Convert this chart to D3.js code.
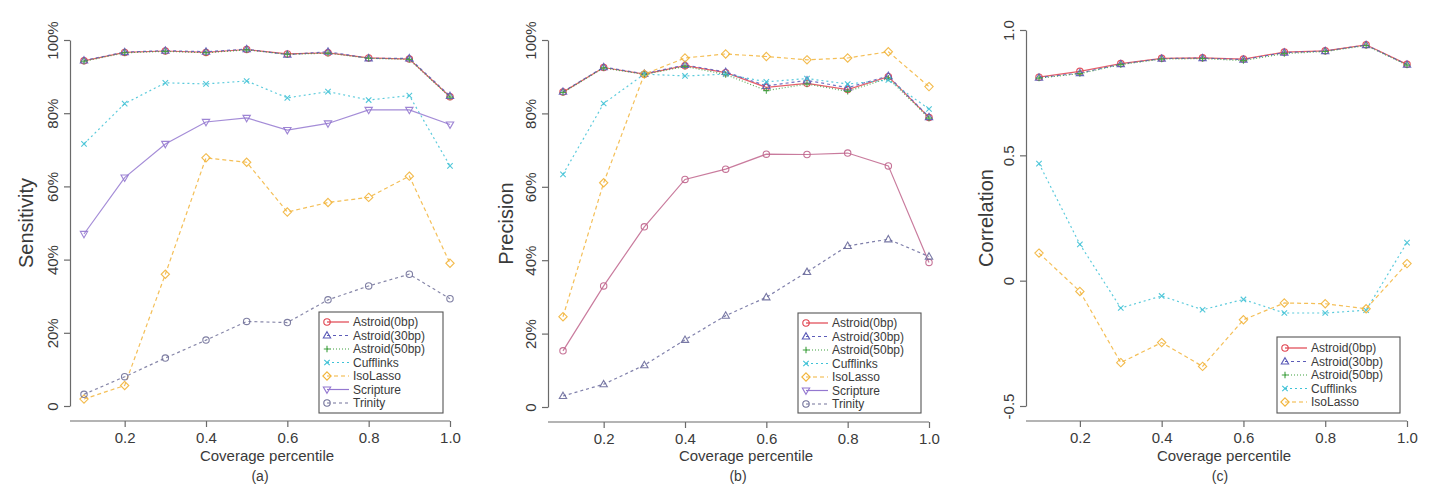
<!DOCTYPE html>
<html><head><meta charset="utf-8">
<script src="https://cdn.jsdelivr.net/npm/d3@7"></script>
<style>
body{margin:0;background:#fff;}
svg text{font-family:"Liberation Sans",Arial,Helvetica,sans-serif;fill:#3a3a3a;}
</style></head>
<body><svg id="c" width="1435" height="486"></svg>
<script>
// ---------- data ----------
const coverage = [0.1,0.2,0.3,0.4,0.5,0.6,0.7,0.8,0.9,1.0];
const xTicks = [0.2,0.4,0.6,0.8,1.0];
const xTickLabels = ["0.2","0.4","0.6","0.8","1.0"];
const pctTicks = [0,20,40,60,80,100];
const pctTickLabels = ["0","20%","40%","60%","80%","100%"];
const corTicks = [-0.5,0,0.5,1.0];
const corTickLabels = ["-0.5","0","0.5","1.0"];
const seriesNames = ["Astroid(0bp)","Astroid(30bp)","Astroid(50bp)","Cufflinks","IsoLasso","Scripture","Trinity"];

// (a) Sensitivity (%)
const sensAstroid0  = [94.3,96.6,97.0,96.6,97.4,96.2,96.5,95.1,94.8,84.5];
const sensAstroid30 = [94.4,96.7,97.1,96.8,97.5,96.0,96.8,95.0,95.0,84.7];
const sensAstroid50 = [94.2,96.5,96.9,96.5,97.3,96.1,96.4,95.0,94.7,84.4];
const sensCufflinks = [71.6,82.6,88.3,88.0,88.8,84.2,85.9,83.6,84.8,65.6];
const sensIsoLasso  = [1.9,5.6,36.0,67.8,66.6,53.0,55.6,57.0,62.8,39.0];
const sensScripture = [47.0,62.4,71.6,77.6,78.7,75.4,77.2,80.9,80.9,76.9];
const sensTrinity   = [3.2,8.0,13.1,18.0,23.1,22.8,29.0,32.8,36.0,29.3];

// (b) Precision (%)
const precAstroid0  = [85.8,92.5,90.7,93.0,91.1,87.1,88.2,86.5,90.0,78.9];
const precAstroid30 = [85.9,92.6,90.8,93.2,91.3,87.5,89.0,87.0,90.2,79.0];
const precAstroid50 = [85.7,92.4,90.6,92.8,90.6,86.2,88.0,86.0,89.6,78.7];
const precCufflinks = [63.4,82.7,90.7,90.2,90.7,88.6,89.5,88.0,89.1,81.2];
const precIsoLasso  = [24.6,61.1,90.7,95.1,96.2,95.5,94.6,95.1,96.8,87.3];
const precScripture = [15.3,33.0,49.1,62.0,64.8,68.9,68.8,69.2,65.7,39.4];
const precTrinity   = [3.0,6.2,11.4,18.3,24.9,29.9,36.8,43.9,45.7,41.0];

// (c) Correlation
const corAstroid0  = [0.812,0.835,0.866,0.887,0.889,0.884,0.912,0.917,0.941,0.863];
const corAstroid30 = [0.810,0.828,0.864,0.886,0.888,0.882,0.910,0.916,0.940,0.862];
const corAstroid50 = [0.808,0.826,0.862,0.884,0.886,0.878,0.906,0.914,0.938,0.860];
const corCufflinks = [0.467,0.145,-0.109,-0.061,-0.116,-0.075,-0.129,-0.129,-0.118,0.152];
const corIsoLasso  = [0.110,-0.043,-0.327,-0.247,-0.342,-0.156,-0.089,-0.092,-0.112,0.068];

// ---------- styles ----------
const styles = {
  "Astroid(0bp)":  {color:"#e0434f", dash:null,    shape:"circle"},
  "Astroid(30bp)": {color:"#5c5cb8", dash:"3,3",   shape:"triangle"},
  "Astroid(50bp)": {color:"#3fa03f", dash:"1,2",   shape:"plus"},
  "Cufflinks":     {color:"#3fc2d6", dash:"2,3",   shape:"cross"},
  "IsoLasso":      {color:"#f2b43a", dash:"4,3",   shape:"diamond"},
  "Scripture":     {color:"#9478d0", dash:null,    shape:"itriangle"},
  "Trinity":       {color:"#72729a", dash:"3,3",   shape:"circle"}
};

const panels = [
  {label:"(a)", ylab:"Sensitivity", yDomain:[0,100], yRange:[406,40], xRange:[84,450], axisX:70, axisY:421,
   yTicks:pctTicks, yTickLabels:pctTickLabels, xlabX:267, tagX:260, ylabX:26,
   legend:{x:319,y:312,w:124,h:101,row:13.5,first:322},
   series:[["Astroid(0bp)",sensAstroid0],["Astroid(30bp)",sensAstroid30],["Astroid(50bp)",sensAstroid50],
           ["Cufflinks",sensCufflinks],["IsoLasso",sensIsoLasso],["Scripture",sensScripture],["Trinity",sensTrinity]],
   legendNames:seriesNames, override:{}},
  {label:"(b)", ylab:"Precision", yDomain:[0,100], yRange:[407,40], xRange:[563,929], axisX:548, axisY:422,
   yTicks:pctTicks, yTickLabels:pctTickLabels, xlabX:746, tagX:738, ylabX:506,
   legend:{x:798,y:313,w:123,h:100,row:13.5,first:323},
   series:[["Astroid(0bp)",precAstroid0],["Astroid(30bp)",precAstroid30],["Astroid(50bp)",precAstroid50],
           ["Cufflinks",precCufflinks],["IsoLasso",precIsoLasso],["Scripture",precScripture],["Trinity",precTrinity]],
   legendNames:seriesNames,
   override:{"Scripture":{color:"#c0648c",shape:"circle"},"Trinity":{color:"#6a6a9c",shape:"triangle"}}},
  {label:"(c)", ylab:"Correlation", yDomain:[-0.5,1.0], yRange:[406,30], xRange:[1039,1407], axisX:1026, axisY:421,
   yTicks:corTicks, yTickLabels:corTickLabels, xlabX:1224, tagX:1220, ylabX:986,
   legend:{x:1277,y:337,w:123,h:76,row:13.5,first:348},
   series:[["Astroid(0bp)",corAstroid0],["Astroid(30bp)",corAstroid30],["Astroid(50bp)",corAstroid50],
           ["Cufflinks",corCufflinks],["IsoLasso",corIsoLasso]],
   legendNames:seriesNames.slice(0,5), override:{}}
];

const svg = d3.select("#c");
const axisColor = "#6a6a6a";

function drawMarker(g, shape, x, y, color){
  const s = 3.2;
  if(shape==="circle"){
    g.append("circle").attr("cx",x).attr("cy",y).attr("r",s).attr("fill","none").attr("stroke",color).attr("stroke-width",1.1);
  } else if(shape==="triangle"){
    g.append("path").attr("d",`M${x},${y-s*1.2}L${x+s*1.15},${y+s*0.8}L${x-s*1.15},${y+s*0.8}Z`).attr("fill","none").attr("stroke",color).attr("stroke-width",1.1);
  } else if(shape==="itriangle"){
    g.append("path").attr("d",`M${x},${y+s*1.2}L${x+s*1.15},${y-s*0.8}L${x-s*1.15},${y-s*0.8}Z`).attr("fill","none").attr("stroke",color).attr("stroke-width",1.1);
  } else if(shape==="diamond"){
    const d=s*1.3;
    g.append("path").attr("d",`M${x},${y-d}L${x+d},${y}L${x},${y+d}L${x-d},${y}Z`).attr("fill","none").attr("stroke",color).attr("stroke-width",1.1);
  } else if(shape==="plus"){
    g.append("path").attr("d",`M${x-s},${y}L${x+s},${y}M${x},${y-s}L${x},${y+s}`).attr("stroke",color).attr("stroke-width",1.1);
  } else if(shape==="cross"){
    const d=s*0.85;
    g.append("path").attr("d",`M${x-d},${y-d}L${x+d},${y+d}M${x-d},${y+d}L${x+d},${y-d}`).attr("stroke",color).attr("stroke-width",1.1);
  }
}

panels.forEach(p=>{
  const x = d3.scaleLinear().domain([0.1,1.0]).range(p.xRange);
  const y = d3.scaleLinear().domain(p.yDomain).range(p.yRange);
  const g = svg.append("g");

  // y axis
  const ya = g.append("g").attr("transform",`translate(${p.axisX},0)`)
    .call(d3.axisLeft(y).tickValues(p.yTicks).tickFormat((d,i)=>p.yTickLabels[i]).tickSize(6).tickSizeOuter(0));
  ya.select(".domain").attr("stroke",axisColor).attr("stroke-width",1.2);
  ya.selectAll(".tick line").attr("stroke",axisColor).attr("stroke-width",1.2);
  ya.selectAll(".tick text").attr("transform","rotate(-90)").attr("x",0).attr("y",-12).attr("dy",0)
    .attr("text-anchor","middle").style("font-size","15px").attr("fill","#3a3a3a");

  // x axis
  const xa = g.append("g").attr("transform",`translate(0,${p.axisY})`)
    .call(d3.axisBottom(x).tickValues(xTicks).tickFormat((d,i)=>xTickLabels[i]).tickSize(6).tickSizeOuter(0));
  xa.select(".domain").remove();
  xa.append("line").attr("x1",p.axisX).attr("x2",p.xRange[1]).attr("y1",0).attr("y2",0)
    .attr("stroke",axisColor).attr("stroke-width",1.2);
  xa.selectAll(".tick line").attr("stroke",axisColor).attr("stroke-width",1.2);
  xa.selectAll(".tick text").attr("y",11).attr("dy","0.71em").style("font-size","15px").attr("fill","#3a3a3a");

  // labels
  g.append("text").attr("x",p.xlabX).attr("y",461).attr("text-anchor","middle").style("font-size","15px").text("Coverage percentile");
  g.append("text").attr("x",p.tagX).attr("y",481).attr("text-anchor","middle").style("font-size","14px").text(p.label);
  const yc = (p.yRange[0]+p.yRange[1])/2;
  g.append("text").attr("transform",`translate(${p.ylabX+7},${yc}) rotate(-90)`).attr("text-anchor","middle")
    .style("font-size","20px").text(p.ylab);

  // series
  const line = d3.line().x((d,i)=>x(coverage[i])).y(d=>y(d));
  p.series.forEach(([name,vals])=>{
    const st = Object.assign({}, styles[name], p.override[name]||{});
    g.append("path").datum(vals).attr("d",line).attr("fill","none").attr("stroke",st.color)
      .attr("stroke-width",1.2).attr("stroke-opacity",0.85).attr("stroke-dasharray",st.dash);
    const mg = g.append("g").attr("opacity",0.9);
    vals.forEach((v,i)=>drawMarker(mg, st.shape, x(coverage[i]), y(v), st.color));
  });

  // legend
  const L = p.legend;
  const lg = g.append("g");
  lg.append("rect").attr("x",L.x).attr("y",L.y).attr("width",L.w).attr("height",L.h)
    .attr("fill","#fff").attr("stroke","#555").attr("stroke-width",1.1);
  p.legendNames.forEach((name,i)=>{
    const st = styles[name];
    const yy = L.first + i*L.row;
    lg.append("line").attr("x1",L.x+8).attr("x2",L.x+30).attr("y1",yy).attr("y2",yy)
      .attr("stroke",st.color).attr("stroke-width",1.2).attr("stroke-dasharray",st.dash);
    drawMarker(lg, st.shape, L.x+8, yy, st.color);
    lg.append("text").attr("x",L.x+34).attr("y",yy).attr("dy","0.35em").style("font-size","12px").text(name);
  });
});
</script></body></html>
